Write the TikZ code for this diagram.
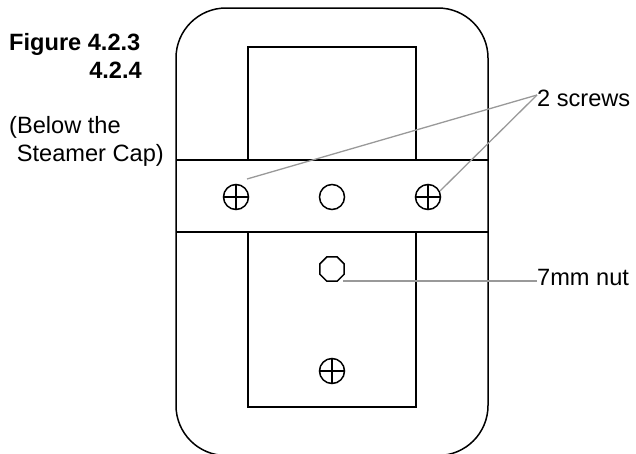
\documentclass[tikz,border=0pt]{standalone}
\usepackage{fontspec}
\setmainfont{Liberation Sans}
\usetikzlibrary{shapes.geometric}
\definecolor{leadergray}{gray}{0.6}
\tikzset{
  partline/.style={line width=1.5pt,black},
  leader/.style={line width=1.3pt,leadergray},
  caption/.style={inner sep=0pt,font=\fontsize{23.6}{28}\selectfont},
  hole/.style={circle,draw,line width=1.5pt,inner sep=0pt,minimum size=25pt},
  screwhead/.style={hole,path picture={
      \draw[line width=1.5pt] (path picture bounding box.north) -- (path picture bounding box.south)
        (path picture bounding box.west) -- (path picture bounding box.east);}},
  nuthead/.style={regular polygon,regular polygon sides=8,draw,line width=1.5pt,inner sep=0pt,
      minimum size=26.5pt}
}
\begin{document}
\begin{tikzpicture}[x=1pt,y=-1pt]
      \useasboundingbox (0,0) rectangle (636,453);
      \clip (0,0) rectangle (636,453);
      \draw[partline,rounded corners=50pt] (176,8) rectangle (488,455.5);
      \draw[partline] (176,160) -- (488,160);
      \draw[partline] (176,232) -- (488,232);
      \draw[partline] (248,160) -- (248,47) -- (416,47) -- (416,160);
      \draw[partline] (248,232) -- (248,407) -- (416,407) -- (416,232);
      \draw
        (236,197) node[screwhead] (screwleft){}
        (332,197) node[hole] (holemid){}
        (428,197) node[screwhead] (screwright){}
        (332,269) node[nuthead] (nut){}
        (332,371) node[screwhead] (screwlow){};
      \draw
        (9,50) node[caption,anchor=base west] (figa){\textbf{Figure 4.2.3}}
        (142,78) node[caption,anchor=base east] (figb){\textbf{4.2.4}}
        (9,133) node[caption,anchor=base west] (belowa){(Below the}
        (164,161) node[caption,anchor=base east] (belowb){Steamer Cap)}
        (537,106) node[caption,anchor=base west] (screwlabel){2 screws}
        (537,285) node[caption,anchor=base west] (nutlabel){7mm nut};
      \coordinate (screwtip) at (537,95);
      \coordinate (nuttip) at (537,281);
      \coordinate (lefttip) at (247,179);
      \coordinate (righttip) at (440,191);
      \coordinate (nutend) at (343,281);
      \begin{scope}[leader]
        \draw (screwtip) -- (lefttip);
        \draw (screwtip) -- (righttip);
        \draw (nuttip) -- (nutend);
      \end{scope}
    \end{tikzpicture}
\end{document}
